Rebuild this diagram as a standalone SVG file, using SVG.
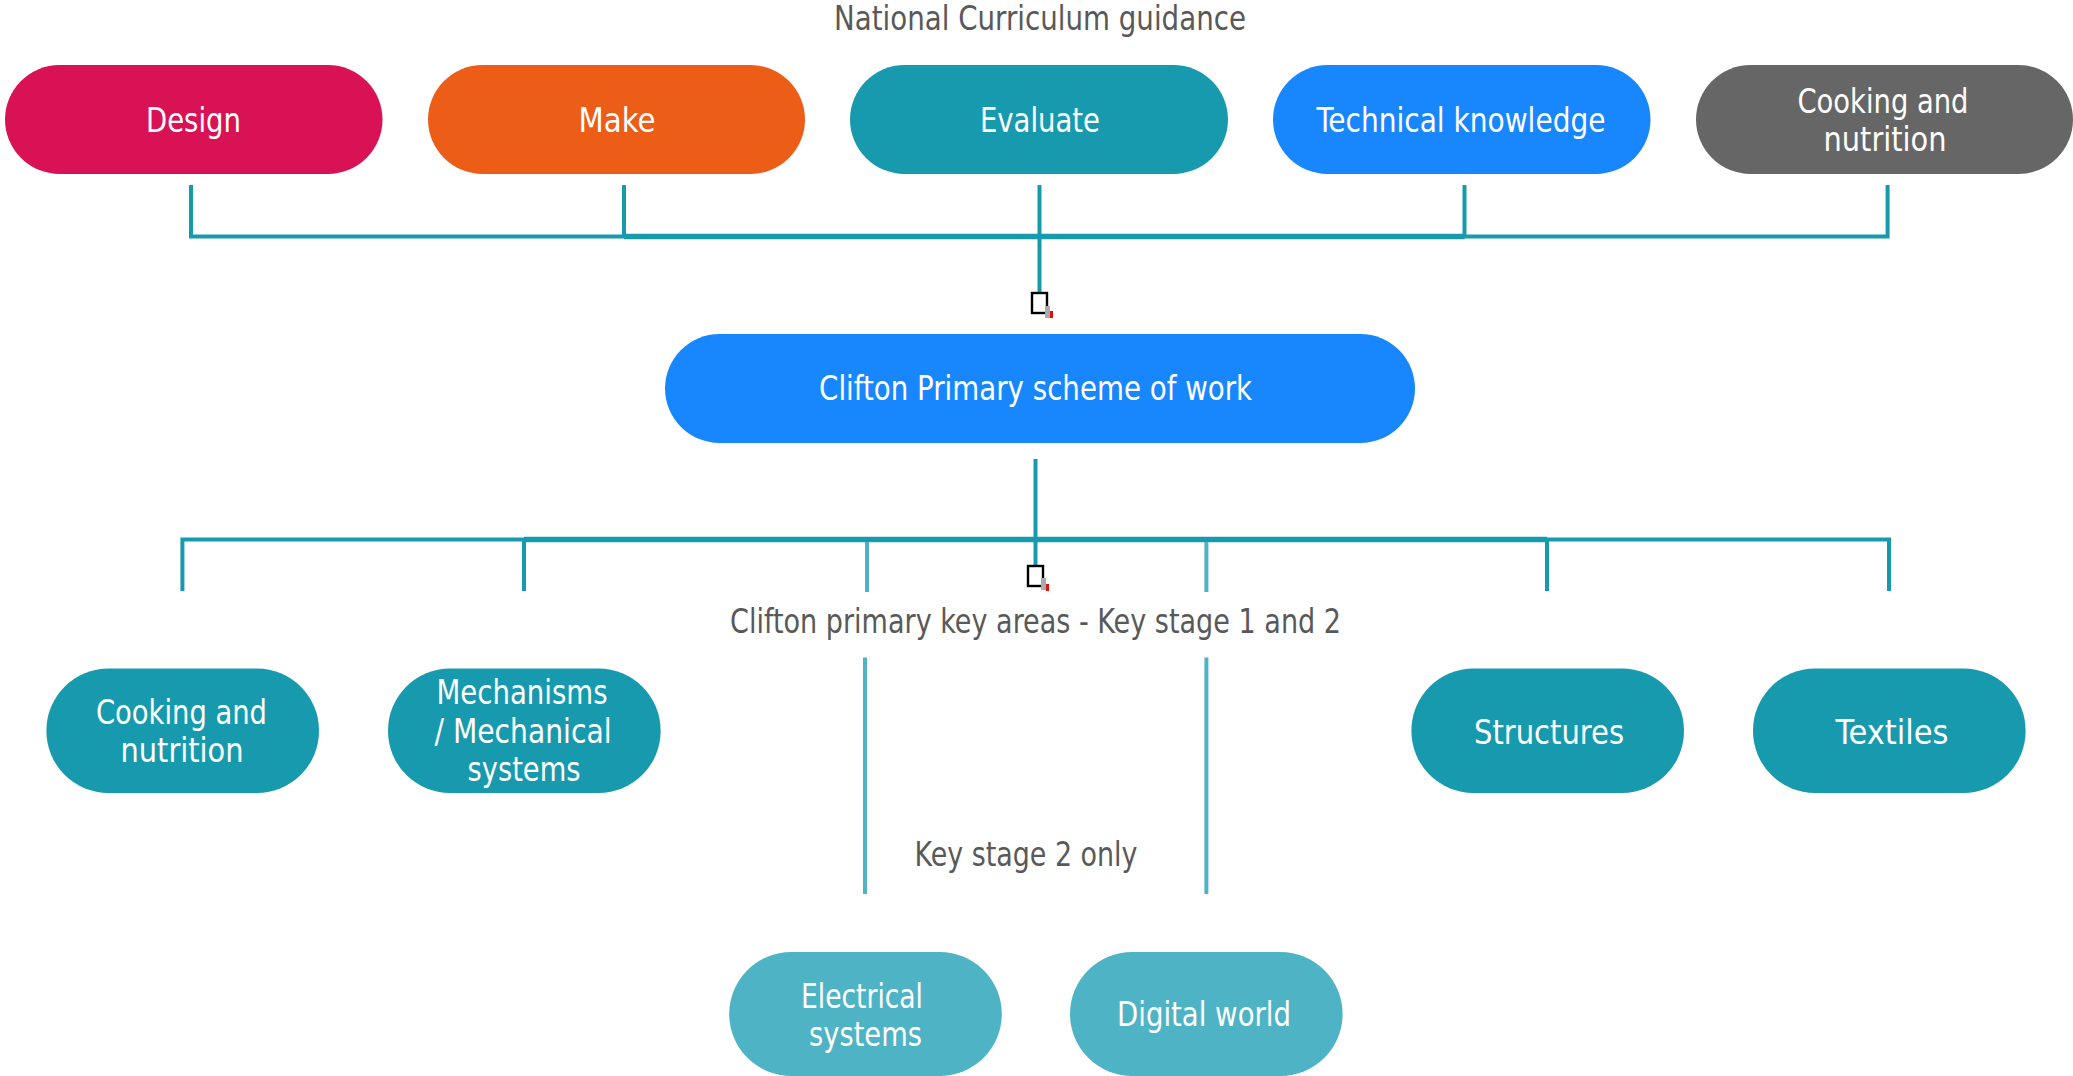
<svg xmlns="http://www.w3.org/2000/svg" width="2073" height="1076" viewBox="0 0 2073 1076">
<style>
text{font-family:"DejaVu Sans Condensed","DejaVu Sans",sans-serif;font-stretch:condensed;font-size:33px;text-anchor:middle;fill:#fff;transform:translateY(1.2px)}
.lbl{fill:#595959}
.pill{rx:54.5px;ry:54.5px}
.w{rx:62px;ry:62px}
.teal{fill:#189aae}.lt{fill:#4eb4c5}
.c{fill:none;stroke:#189aae;stroke-width:4}
.thick{stroke-width:5.5}
.l{fill:none;stroke:#4eb4c5;stroke-width:4}
.box{fill:#fff;stroke:#000;stroke-width:2.4}
</style>
<rect width="2073" height="1076" fill="#fff"/>
<g id="connectors">
<path class="c" d="M191 185V236.5H624M624 185V236.5M1039.5 185V293M1464.5 185V236.5H1887.6V185"/>
<path class="c thick" d="M624 236.5H1464.5"/>
<path class="c" d="M182.4 591V539.5H524M524 539.5V591M1547 539.5V591M1547 539.5H1889V591M1035.5 459V565"/>
<path class="c thick" d="M524 539.5H1547"/>
<path class="l" d="M867 542V592M1206.4 542V592M865 657.6V894M1206.4 657.6V894"/>
</g>
<g id="marker-top"><rect class="box" x="1032" y="293" width="15" height="20"/><rect x="1045" y="306" width="5" height="12" fill="#aaa"/><rect x="1050" y="311" width="3" height="7" fill="#e01010"/></g>
<g id="marker-bottom"><rect class="box" x="1028" y="566" width="15" height="20"/><rect x="1041" y="578" width="5" height="12" fill="#aaa"/><rect x="1046" y="584" width="3" height="7" fill="#e01010"/></g>
<g id="title"><text class="lbl" x="1040" y="29" textLength="412" lengthAdjust="spacingAndGlyphs">National Curriculum guidance</text></g>
<g id="design"><rect class="pill" x="5" y="65" width="377.5" height="109" fill="#d91155"/><text x="193.5" y="131" textLength="95" lengthAdjust="spacingAndGlyphs">Design</text></g>
<g id="make"><rect class="pill" x="428" y="65" width="377" height="109" fill="#ec5d18"/><text x="617" y="131" textLength="77" lengthAdjust="spacingAndGlyphs">Make</text></g>
<g id="evaluate"><rect class="pill teal" x="850" y="65" width="378" height="109"/><text x="1040" y="131" textLength="120" lengthAdjust="spacingAndGlyphs">Evaluate</text></g>
<g id="technical"><rect class="pill" x="1273" y="65" width="377.5" height="109" fill="#1887fe"/><text x="1461" y="131" textLength="289" lengthAdjust="spacingAndGlyphs">Technical knowledge</text></g>
<g id="cooking-top"><rect class="pill" x="1696" y="65" width="377" height="109" fill="#666"/><text x="1883" y="112" textLength="171" lengthAdjust="spacingAndGlyphs">Cooking and</text><text x="1885" y="149.5" textLength="123" lengthAdjust="spacingAndGlyphs">nutrition</text></g>
<g id="scheme"><rect class="pill" x="665" y="334" width="750" height="109" fill="#1887fe"/><text x="1035.6" y="399" textLength="433" lengthAdjust="spacingAndGlyphs">Clifton Primary scheme of work</text></g>
<g id="key-areas"><text class="lbl" x="1035.5" y="631.5" textLength="611" lengthAdjust="spacingAndGlyphs">Clifton primary key areas - Key stage 1 and 2</text></g>
<g id="cooking"><rect class="w teal" x="46.4" y="668.5" width="272.6" height="124.5"/><text x="181.5" y="723" textLength="171" lengthAdjust="spacingAndGlyphs">Cooking and</text><text x="182" y="761" textLength="123" lengthAdjust="spacingAndGlyphs">nutrition</text></g>
<g id="mechanisms"><rect class="w teal" x="388" y="668.5" width="272.6" height="124.5"/><text x="522" y="702.5" textLength="171" lengthAdjust="spacingAndGlyphs">Mechanisms</text><text x="523" y="741.5" textLength="177" lengthAdjust="spacingAndGlyphs">/ Mechanical</text><text x="524" y="780" textLength="113" lengthAdjust="spacingAndGlyphs">systems</text></g>
<g id="structures"><rect class="w teal" x="1411.4" y="668.5" width="272.6" height="124.5"/><text x="1549" y="743" textLength="150" lengthAdjust="spacingAndGlyphs">Structures</text></g>
<g id="textiles"><rect class="w teal" x="1753" y="668.5" width="272.6" height="124.5"/><text x="1892" y="743" textLength="113" lengthAdjust="spacingAndGlyphs">Textiles</text></g>
<g id="key-stage-2"><text class="lbl" x="1026" y="865" textLength="223" lengthAdjust="spacingAndGlyphs">Key stage 2 only</text></g>
<g id="electrical"><rect class="w lt" x="729.2" y="952" width="272.6" height="124"/><text x="862" y="1006.5" textLength="122" lengthAdjust="spacingAndGlyphs">Electrical</text><text x="865.5" y="1045" textLength="113" lengthAdjust="spacingAndGlyphs">systems</text></g>
<g id="digital"><rect class="w lt" x="1070" y="952" width="272.6" height="124"/><text x="1204" y="1024.5" textLength="174" lengthAdjust="spacingAndGlyphs">Digital world</text></g>
</svg>
